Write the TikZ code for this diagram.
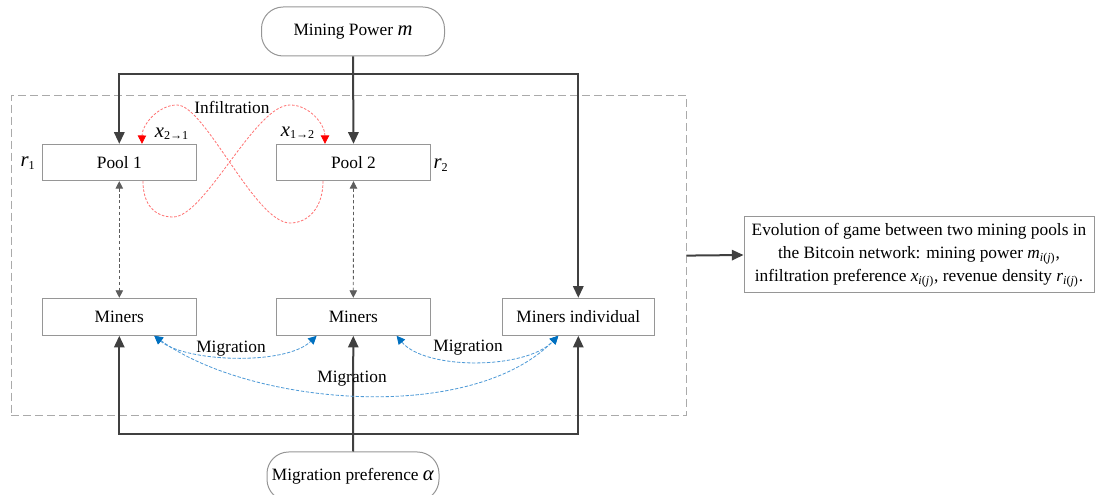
\documentclass[tikz,border=0pt]{standalone}
\usepackage{fontspec}
\setmainfont{Liberation Serif}
\usepackage{amsmath}
\usetikzlibrary{arrows.meta,calc}
\definecolor{boxgray}{RGB}{150,150,150}
\definecolor{linedark}{RGB}{64,64,64}
\definecolor{infred}{RGB}{255,115,115}
\definecolor{headred}{RGB}{255,0,0}
\definecolor{migblue}{RGB}{80,155,215}
\definecolor{headblue}{RGB}{0,112,192}
\definecolor{framegray}{RGB}{170,170,170}
\newcommand{\bigv}[1]{{\fontsize{12.4}{14}\selectfont\textit{#1}}}
\begin{document}
\begin{tikzpicture}[x=0.6pt,y=-0.6pt,
  font=\fontsize{10.4}{14}\selectfont,
  box/.style={draw=boxgray, line width=0.6pt, minimum width=92.4pt, minimum height=21.8pt, inner sep=2pt},
  rbox/.style={draw=boxgray, line width=0.6pt, rounded corners=13pt, minimum height=29.4pt, inner sep=2pt},
  main/.style={draw=linedark, line width=1.2pt, line join=miter, -{Triangle[length=7pt,width=6.2pt]}},
  pm/.style={draw=linedark!85, line width=0.5pt, dash pattern=on 2pt off 1.5pt, {Triangle[length=4.5pt,width=4.5pt]}-{Triangle[length=4.5pt,width=4.5pt]}},
  inf/.style={draw=infred, line width=0.5pt, dash pattern=on 1.5pt off 1pt, -{Triangle[length=5pt,width=5pt,color=headred]}},
  mig/.style={draw=migblue, line width=0.5pt, dash pattern=on 2pt off 1pt, {Triangle[length=5pt,width=5pt,color=headblue]}-{Triangle[length=5pt,width=5pt,color=headblue]}},
  lbl/.style={inner sep=1pt},
]
\useasboundingbox (0,0) rectangle (1097,495);

% frame
\node[draw=framegray, line width=0.6pt, dash pattern=on 4.8pt off 2.4pt, minimum width=405pt, minimum height=192.4pt, inner sep=0pt] (frame) at (348.5,255.6) {};

% nodes
\node[rbox, minimum width=109.8pt] (mp) at (353,31.5) {Mining Power \bigv{m}};
\node[box] (p1) at (119.3,162.5) {Pool 1};
\node[box] (p2) at (353.5,162.5) {Pool 2};
\node[box, minimum height=22.2pt] (m1) at (119.3,316.8) {Miners};
\node[box, minimum height=22.2pt] (m2) at (353.3,316.8) {Miners};
\node[box, minimum width=91.2pt, minimum height=22.2pt] (mi) at (578.3,316.8) {Miners individual};
\node[rbox, minimum width=103.2pt] (mpref) at (353,476.5) {Migration preference \bigv{α}};
\node[box, minimum width=210pt, minimum height=45.6pt, inner sep=0.5pt, align=center] (evo) at (919,255) {Evolution of game between two mining pools in\\ the Bitcoin network: mining power $\textit{m}_{\textit{i}\text{(}\textit{j}\text{)}}$,\\ infiltration preference $\textit{x}_{\textit{i}\text{(}\textit{j}\text{)}}$, revenue density $\textit{r}_{\textit{i}\text{(}\textit{j}\text{)}}$.};

% main connectors
\coordinate (top) at (353,74);
\coordinate (bot) at (353,434.3);
\draw[main] (mp.south) -- (p2.north);
\draw[main] (top) -| (p1.north);
\draw[main] (top) -| (mi.north);
\draw[main] (mpref.north) -- (m2.south);
\draw[main] (bot) -| (m1.south);
\draw[main] (bot) -| (mi.south);
\draw[main] (frame.east) -- (evo.west);

% pool-miners links
\draw[pm] (p1.south) -- (m1.north);
\draw[pm] (p2.south) -- (m2.north);

% infiltration
\draw[inf] ([xshift=14.2pt]p1.south) .. controls (143,205) and (155,217) .. (173,217)
  .. controls (205,217) and (255,105) .. (290,105)
  .. controls (310,105) and (325,125) .. ([xshift=-17.1pt]p2.north);
\draw[inf] ([xshift=-18.3pt]p2.south) .. controls (323,208) and (308,223) .. (290,223)
  .. controls (255,223) and (205,105) .. (177,105)
  .. controls (158,105) and (142,125) .. ([xshift=13.6pt]p1.north);

% migration
\draw[mig] ([xshift=21pt]m1.south) .. controls (185,362) and (285,366) .. ([xshift=-22pt]m2.south);
\draw[mig] ([xshift=26pt]m2.south) .. controls (425,370) and (525,370) .. ([xshift=-12pt]mi.south);
\draw[mig] ([xshift=21pt]m1.south) .. controls (250,405) and (470,425) .. ([xshift=-12pt]mi.south);

% labels
\node[lbl] (r1) at (28,163) {$\bigv{r}_{\text{1}}$};
\node[lbl] (r2) at (441,165) {$\bigv{r}_{\text{2}}$};
\node[lbl] (inflbl) at (232,107) {Infiltration};
\node[lbl] (x21) at (172,134) {$\bigv{x}_{\text{2→1}}$};
\node[lbl] (x12) at (298,133) {$\bigv{x}_{\text{1→2}}$};
\node[lbl] (mg1) at (231,349) {Migration};
\node[lbl] (mg2) at (468,348) {Migration};
\node[lbl] (mg3) at (352,379) {Migration};
\end{tikzpicture}
\end{document}
